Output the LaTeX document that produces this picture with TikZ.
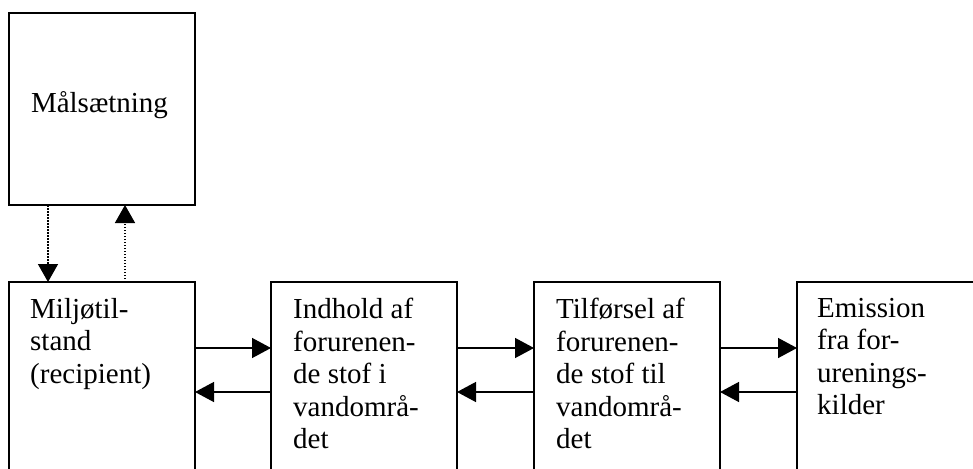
\documentclass[tikz,border=0pt]{standalone}
\usepackage{fontspec}
\setmainfont{Liberation Serif}
\usetikzlibrary{arrows.meta}

\begin{document}
\begin{tikzpicture}[x=1pt,y=-1pt,
    box/.style={draw,line width=1.6pt,minimum width=186pt,minimum height=192pt,
      inner sep=0pt,outer sep=0pt,anchor=north west},
    txt/.style={inner sep=0pt,align=left,anchor=north west,
      font=\fontsize{29}{32.5}\selectfont},
    flow/.style={line width=1.4pt,-{Triangle[length=19pt,width=20pt]}},
    link/.style={line width=1.5pt,dash pattern=on 1.5pt off 1.5pt,
      -{Triangle[length=18pt,width=20pt]}}]
  \useasboundingbox (0,0) rectangle (973,468);
  \clip (0,0) rectangle (973,468);
  % goal on top, chain of boxes below (cut off at the page edge)
  \node[box] (goal) at (9,13) {};
  \node[box,minimum height=230pt] (state) at (9,282) {};
  \node[box,minimum height=230pt] (content) at (271,282) {};
  \node[box,minimum height=230pt] (supply) at (534,282) {};
  \node[box,minimum height=230pt,minimum width=230pt] (emission) at (797,282) {};
  % texts in the boxes
  \node[txt,anchor=base] at ([xshift=-2.5pt,yshift=-4pt]goal.center) {Målsætning};
  \node[txt] at ([xshift=21pt,yshift=-16pt]state.north west) {Miljøtil-\\stand\\(recipient)};
  \node[txt] at ([xshift=22pt,yshift=-16pt]content.north west) {Indhold af\\forurenen-\\de stof i\\vandområ-\\det};
  \node[txt] at ([xshift=22pt,yshift=-16pt]supply.north west) {Tilførsel af\\forurenen-\\de stof til\\vandområ-\\det};
  \node[txt] at ([xshift=20pt,yshift=-16pt]emission.north west) {Emission\\fra for-\\urenings-\\kilder};
  % levels of the arrows
  \coordinate (hi) at (0,348);
  \coordinate (lo) at (0,392);
  \coordinate (dn) at (48,0);
  \coordinate (up) at (125,0);
  \draw[flow] (state.east |- hi) -- (content.west |- hi);
  \draw[flow] (content.east |- hi) -- (supply.west |- hi);
  \draw[flow] (supply.east |- hi) -- (emission.west |- hi);
  \draw[flow] (content.west |- lo) -- (state.east |- lo);
  \draw[flow] (supply.west |- lo) -- (content.east |- lo);
  \draw[flow] (emission.west |- lo) -- (supply.east |- lo);
  \draw[link] (goal.south -| dn) -- (state.north -| dn);
  \draw[link] (state.north -| up) -- (goal.south -| up);
\end{tikzpicture}
\end{document}
